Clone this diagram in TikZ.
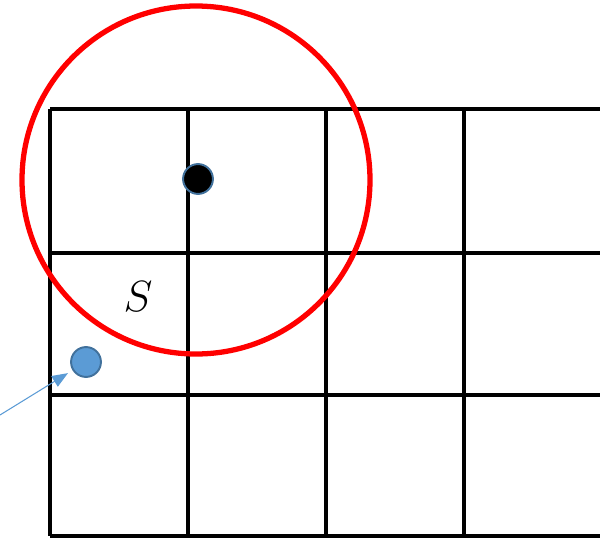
\documentclass[tikz,border=0pt]{standalone}
\usepackage{amsmath, amssymb}
\usetikzlibrary{arrows.meta}
\definecolor{dotblue}{HTML}{5B9BD5}
\definecolor{dotedge}{HTML}{41719C}
\tikzset{
    gridline/.style={line width=2pt, black},
    cellpoint/.style={circle, inner sep=0pt, line width=1.1pt, draw=dotedge},
}

\begin{document}
\begin{tikzpicture}[x=0.02cm, y=-0.02cm, >=Stealth]
    \useasboundingbox (0,0) rectangle (600,538);
    % grid
    \foreach \x in {50,188,326,464}
        \draw[gridline] (\x,109) -- (\x,536);
    \foreach \y in {109,253,395,536}
        \draw[gridline] (50,\y) -- (600,\y);
    % query range
    \draw[red, line width=3pt] (196,180) circle (174);
    \node[cellpoint, minimum size=17pt, fill=black] (query) at (198,179) {};
    \node[cellpoint, minimum size=17pt, fill=dotblue] (sample) at (86,362) {};
    \node[font=\fontsize{26}{30}\selectfont] (slabel) at (138,297) {$S$};
    % pointer
    \coordinate (tail) at (0,415);
    \draw[-{Triangle[length=9pt,width=7pt]}, dotblue, line width=0.6pt, shorten >=3pt] (tail) -- (sample);
\end{tikzpicture}
\end{document}
